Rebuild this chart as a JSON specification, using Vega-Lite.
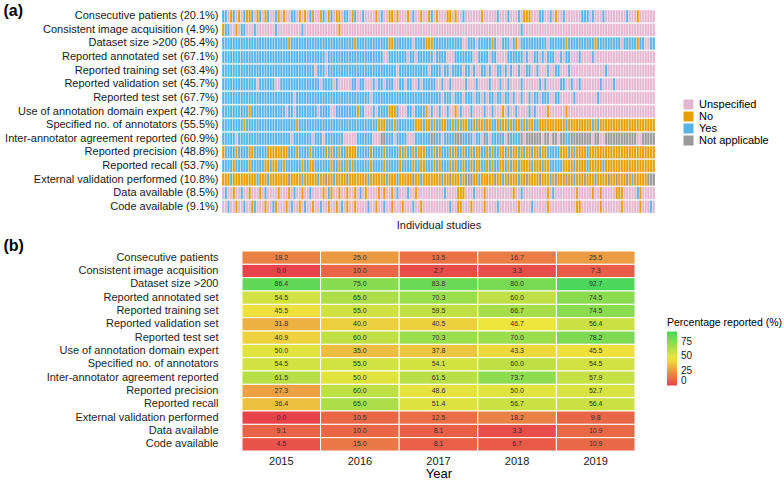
{
  "$schema": "https://vega.github.io/schema/vega-lite/v6.json",
  "padding": {"left": 3, "top": 2, "right": 0, "bottom": 0},
  "spacing": 7,
  "config": {
    "font": "Liberation Sans",
    "view": {"stroke": null},
    "axis": {"grid": false, "domain": false, "ticks": false}
  },
  "datasets": {
    "cats": [
      {"code": 0, "status": "Unspecified"},
      {"code": 1, "status": "No"},
      {"code": 2, "status": "Yes"},
      {"code": 3, "status": "Not applicable"}
    ]
  },
  "resolve": {
    "scale": {"color": "independent", "x": "independent", "y": "independent"},
    "legend": {"color": "independent"}
  },
  "vconcat": [
    {
      "width": 433,
      "height": 203,
      "data": {
        "values": [
          {"crit": "Consecutive patients (20.1%)", "v": [2,2,0,1,2,0,1,0,2,1,1,2,0,1,2,0,1,2,0,0,2,1,0,1,0,0,2,2,0,1,0,1,0,2,1,0,0,1,2,0,1,2,0,1,1,0,2,2,0,1,2,0,0,2,0,0,0,0,1,0,2,0,0,1,1,0,1,0,0,0,1,0,2,0,0,1,0,0,1,2,0,1,0,0,0,1,1,0,1,0,0,2,0,0,0,0,0,0,1,0,0,0,0,0,2,0,0,0,2,0,0,0,2,0,1,1,1,0,0,0,2,2,0,0,2,0,1,0,0,2,0,0,0,0,0,0,2,2,2,0,2,0,0,0,2,0,0,0,0,0,0,0,0,2,0,0,0,1,0,0,0,0,0,0]},
          {"crit": "Consistent image acquisition (4.9%)", "v": [1,2,2,0,0,1,0,2,2,0,0,0,2,0,0,0,0,0,0,0,2,0,0,0,0,0,0,0,0,0,2,0,0,0,0,0,0,0,0,0,0,0,0,0,1,0,0,0,0,0,0,0,0,0,0,0,0,0,0,0,0,0,0,0,0,0,0,0,0,0,0,0,0,0,0,0,0,0,0,0,0,0,0,0,0,0,0,0,0,0,0,0,0,0,0,0,0,0,0,0,0,0,0,0,0,0,0,0,0,0,0,0,0,2,0,0,0,0,0,0,0,0,0,0,0,0,0,0,0,0,0,0,0,0,0,0,0,0,0,0,0,0,0,0,0,0,0,0,0,0,0,0,0,0,0,0,0,0,0,0,0,0,0,0]},
          {"crit": "Dataset size >200 (85.4%)", "v": [2,2,2,2,2,2,2,2,2,2,2,2,2,2,2,2,2,2,2,2,2,2,2,2,2,1,2,2,2,2,2,2,2,2,2,2,2,2,2,2,2,2,2,2,2,2,2,2,2,2,1,2,2,2,2,2,2,2,2,2,2,2,2,1,1,2,2,2,2,2,2,2,0,2,2,2,2,1,1,1,2,2,2,2,2,2,2,2,2,2,2,0,0,2,2,2,0,2,2,2,2,2,1,2,0,0,2,2,2,0,2,1,0,2,2,2,2,2,2,2,2,2,2,0,2,2,2,2,2,2,1,2,2,2,2,2,2,2,2,2,2,1,2,2,2,2,2,2,2,2,2,0,2,2,2,2,2,1,2,2,0,0,2,2]},
          {"crit": "Reported annotated set (67.1%)", "v": [2,2,2,2,2,2,2,2,2,2,2,2,2,2,2,2,2,2,2,2,2,2,2,2,2,2,2,2,2,2,2,2,2,2,2,2,2,2,2,0,2,2,2,2,2,2,2,2,2,2,2,2,2,2,2,2,2,2,2,2,2,0,0,2,2,2,2,2,2,2,0,2,2,0,2,2,2,2,2,2,0,2,2,2,2,0,0,0,2,2,2,2,2,2,2,0,0,2,2,2,2,0,2,2,0,0,0,0,2,2,2,2,2,2,0,2,0,0,2,2,0,2,0,2,2,2,0,0,2,0,2,2,0,0,0,2,0,0,0,0,2,0,0,0,0,0,0,0,0,0,0,0,0,0,0,0,0,0,0,0,0,0,0,0]},
          {"crit": "Reported training set (63.4%)", "v": [2,2,2,2,2,2,2,2,2,2,2,2,2,2,2,2,2,2,2,2,2,2,2,2,2,2,2,2,2,2,2,2,2,2,2,0,2,2,2,0,2,2,2,2,2,2,2,2,2,2,2,2,2,2,2,2,2,2,2,2,2,2,2,2,2,2,0,2,2,2,2,2,2,2,2,2,2,2,0,2,2,2,2,0,2,2,0,2,2,2,2,0,2,2,0,2,0,0,2,2,0,2,0,0,2,2,0,2,0,2,0,0,2,0,0,2,2,0,0,2,0,0,0,2,0,0,2,2,0,0,0,2,0,0,0,0,0,0,0,0,0,0,0,0,0,2,0,0,0,0,0,0,0,0,0,0,0,0,0,0,0,0,0,0]},
          {"crit": "Reported validation set (45.7%)", "v": [2,2,2,2,2,2,2,2,2,2,2,2,2,0,2,2,2,2,2,2,0,0,2,2,2,2,2,2,2,2,2,2,2,2,2,2,2,0,2,2,2,2,0,2,0,0,0,0,0,2,2,0,2,2,0,0,0,2,0,2,2,0,2,2,2,0,0,2,2,0,2,2,0,0,2,0,2,2,2,2,2,0,0,2,0,0,2,0,0,0,0,0,2,0,0,0,2,0,0,0,0,2,0,0,0,2,0,0,2,0,0,0,0,2,0,0,0,0,0,0,2,0,2,0,0,0,0,0,2,2,0,0,2,0,0,2,0,0,0,0,0,0,0,2,0,0,0,0,2,0,0,0,0,0,0,0,0,0,0,0,0,0,0,0]},
          {"crit": "Reported test set (67.7%)", "v": [2,2,2,2,2,2,2,2,2,2,2,2,2,2,2,2,2,2,2,2,2,2,2,2,2,2,2,0,2,2,2,2,2,2,2,2,2,2,2,2,2,2,2,2,2,2,2,2,2,2,2,2,2,2,2,2,0,2,2,2,2,2,2,2,2,2,2,2,2,2,2,2,2,2,2,2,2,2,2,2,2,2,2,0,2,2,2,0,2,2,2,0,2,2,2,0,2,2,0,2,0,2,2,0,2,2,0,2,2,0,2,0,0,2,0,0,2,0,2,2,0,2,2,2,0,0,2,2,0,0,0,0,0,2,0,0,0,0,0,0,0,0,2,0,0,0,0,0,0,0,0,0,0,0,0,0,0,0,0,0,0,0,0,0]},
          {"crit": "Use of annotation domain expert (42.7%)", "v": [2,2,2,2,2,2,2,2,2,2,1,2,2,2,2,2,2,2,2,2,2,2,2,2,0,2,2,0,2,2,2,2,2,2,2,2,0,2,2,2,2,0,0,2,2,2,2,2,2,2,2,1,2,2,0,0,0,2,0,2,2,2,2,1,1,1,2,0,0,0,2,2,0,2,2,2,2,1,0,2,0,0,2,0,0,2,0,0,1,0,2,0,0,0,2,0,0,0,0,2,0,0,2,0,0,0,1,0,2,0,0,2,0,0,0,0,2,0,2,0,0,0,0,1,0,0,0,0,0,0,1,0,0,0,0,0,0,0,0,0,0,0,0,0,0,0,0,0,0,0,0,0,0,0,0,0,0,0,0,0,0,0,0,0]},
          {"crit": "Specified no. of annotators (55.5%)", "v": [2,2,2,2,2,2,2,2,1,2,2,2,2,2,2,2,2,2,2,2,2,2,2,2,2,2,2,2,1,2,2,2,2,2,2,2,2,2,2,2,2,2,2,2,2,2,2,2,2,2,2,2,2,2,2,2,2,2,2,1,1,1,2,2,2,1,2,2,2,2,2,2,2,1,1,1,2,1,1,2,1,2,2,1,1,2,2,1,2,1,2,1,1,2,2,1,2,1,1,2,1,1,2,2,1,2,1,1,2,1,2,1,1,2,1,2,1,1,2,2,1,1,1,1,1,1,1,1,1,1,2,1,1,1,1,1,1,1,1,1,2,1,2,1,1,1,1,1,1,1,1,1,1,1,1,1,1,1,1,1,1,1,1,1]},
          {"crit": "Inter-annotator agreement reported (60.9%)", "v": [2,2,2,2,2,0,2,2,2,2,2,2,2,2,2,2,2,2,2,2,2,2,2,2,2,2,0,2,2,2,2,2,2,2,0,2,2,2,0,2,2,2,2,2,2,2,0,0,0,0,0,2,2,2,2,2,2,0,0,0,3,3,2,2,2,0,2,2,2,2,0,0,0,2,2,2,2,2,2,3,3,2,2,0,2,2,2,2,3,3,3,2,2,3,2,0,2,2,0,3,2,0,2,2,2,3,2,0,3,2,2,2,2,3,0,3,3,3,3,3,3,0,3,3,0,3,3,0,3,3,2,2,3,3,3,3,3,3,3,3,0,3,3,0,0,3,3,3,3,3,3,3,3,3,3,3,3,0,0,3,3,3,3,3]},
          {"crit": "Reported precision (48.8%)", "v": [1,2,2,2,2,1,2,2,2,2,1,1,2,2,2,2,2,1,1,1,1,1,1,1,1,2,2,2,1,2,2,2,2,1,2,2,2,2,2,1,2,1,2,2,1,2,2,1,1,1,1,2,2,2,2,2,1,2,2,2,2,1,2,2,2,2,2,1,2,1,2,2,1,2,1,1,1,2,2,2,1,2,1,2,2,2,1,2,1,2,2,1,2,2,1,2,1,1,2,2,1,2,1,2,2,1,1,2,1,2,1,1,2,1,2,1,1,2,1,1,2,1,1,2,2,2,2,2,1,1,1,2,1,2,1,1,1,1,2,1,1,1,1,1,1,1,1,1,1,1,1,1,1,1,1,1,1,1,1,1,1,1,1,1]},
          {"crit": "Reported recall (53.7%)", "v": [2,2,2,2,1,2,2,2,2,2,1,2,2,2,2,2,1,1,2,1,1,2,2,1,2,2,2,2,2,2,1,2,2,1,1,2,2,2,2,2,2,1,2,2,1,2,2,1,2,1,2,2,2,2,2,2,1,2,2,2,2,1,2,2,2,2,2,1,2,2,2,2,1,2,2,1,1,2,2,2,1,2,1,2,2,2,1,2,1,2,2,1,2,2,1,2,1,1,2,2,1,2,1,2,2,1,1,2,1,2,1,1,2,1,1,1,1,2,1,1,1,2,1,1,2,2,2,2,2,1,1,1,1,2,1,1,1,1,2,1,1,1,1,1,2,1,1,1,1,1,1,1,1,1,1,1,1,1,1,1,1,1,1,1]},
          {"crit": "External validation performed (10.8%)", "v": [1,1,1,2,1,1,1,1,1,1,1,1,1,2,1,1,1,2,1,1,1,1,1,1,1,3,1,1,1,1,2,1,1,1,1,1,2,1,1,3,1,1,2,1,1,1,1,3,1,1,1,1,1,1,1,2,1,1,1,1,1,1,2,1,1,1,2,1,1,1,1,1,3,1,1,2,1,1,1,1,1,1,1,2,1,1,3,1,1,1,2,1,3,3,3,1,1,2,1,1,1,1,1,3,1,1,2,1,3,1,1,1,2,1,1,3,1,1,1,1,3,1,1,1,2,1,3,1,1,1,3,1,1,2,1,1,1,3,1,1,1,3,1,1,1,1,3,1,1,3,1,1,1,3,1,2,1,1,1,1,1,3,3,3]},
          {"crit": "Data available (8.5%)", "v": [0,2,0,0,1,0,0,2,0,0,1,0,0,0,1,0,2,0,0,0,0,1,0,0,0,1,0,2,0,0,1,0,0,2,0,0,0,0,1,0,2,1,0,0,1,0,0,1,0,0,1,0,2,0,1,0,0,0,0,1,0,1,0,0,1,0,2,0,0,0,2,0,0,1,0,0,0,0,0,0,0,0,0,0,2,0,0,0,0,1,1,1,0,0,0,2,0,0,0,1,0,0,0,0,0,0,0,0,0,0,1,0,0,2,0,0,0,0,0,0,0,0,0,1,0,2,0,0,0,0,0,0,0,0,1,0,0,0,0,0,1,0,0,1,0,0,0,0,0,1,1,1,0,0,0,0,0,2,1,0,0,0,0,0]},
          {"crit": "Code available (9.1%)", "v": [0,0,2,0,0,1,0,0,2,0,0,1,2,0,0,0,1,0,0,2,1,0,0,0,1,0,2,0,0,1,0,2,0,0,1,0,0,2,0,0,1,0,0,1,0,2,0,1,0,0,1,0,0,0,0,2,0,0,1,0,0,2,0,0,1,0,0,0,1,0,0,0,2,0,0,1,0,0,0,0,0,0,0,0,0,0,2,0,0,1,1,0,0,0,1,0,0,0,0,1,0,0,0,0,2,0,0,0,0,0,0,0,1,0,0,0,0,2,0,0,0,0,0,1,0,0,0,0,0,0,0,0,0,0,1,1,0,0,0,0,0,0,0,1,0,0,0,0,0,0,0,1,0,0,0,0,0,0,1,0,0,0,2,0]}
        ]
      },
      "transform": [
        {"flatten": ["v"]},
        {"window": [{"op": "row_number", "as": "study"}], "groupby": ["crit"]},
        {"lookup": "v", "from": {"data": {"name": "cats"}, "key": "code", "fields": ["status"]}}
      ],
      "mark": {"type": "rect", "stroke": "white", "strokeWidth": 0.35},
      "encoding": {
        "x": {
          "field": "study", "type": "ordinal",
          "scale": {"paddingInner": 0, "paddingOuter": 0},
          "axis": {"labels": false, "title": "Individual studies", "titleFontSize": 11, "titleFontWeight": "normal", "titlePadding": 6, "titleColor": "#1a1a1a"}
        },
        "y": {
          "field": "crit", "type": "nominal",
          "sort": ["Consecutive patients (20.1%)", "Consistent image acquisition (4.9%)", "Dataset size >200 (85.4%)", "Reported annotated set (67.1%)", "Reported training set (63.4%)", "Reported validation set (45.7%)", "Reported test set (67.7%)", "Use of annotation domain expert (42.7%)", "Specified no. of annotators (55.5%)", "Inter-annotator agreement reported (60.9%)", "Reported precision (48.8%)", "Reported recall (53.7%)", "External validation performed (10.8%)", "Data available (8.5%)", "Code available (9.1%)"],
          "scale": {"paddingInner": 0.075, "paddingOuter": 0},
          "axis": {"title": "(a)", "titleAngle": 0, "titleX": -219, "titleY": -7.5, "titleAlign": "left", "titleBaseline": "top", "titleFontSize": 16, "titleFontWeight": "bold", "titleColor": "#000", "labelFontSize": 11, "labelColor": "#1a1a1a", "labelPadding": 4, "labelLimit": 300}
        },
        "color": {
          "field": "status", "type": "nominal",
          "scale": {"domain": ["Unspecified", "No", "Yes", "Not applicable"], "range": ["#E4B7D1", "#E69F00", "#56B4E9", "#999999"]},
          "legend": {"title": null, "orient": "none", "legendX": 461, "legendY": 89, "symbolType": "square", "symbolSize": 100, "symbolStrokeWidth": 0, "symbolOpacity": 1, "labelFontSize": 11, "labelColor": "#000", "rowPadding": 0, "padding": 0, "labelOffset": 5}
        }
      }
    },
    {
      "width": 413,
      "height": 200,
      "data": {
        "values": [
          {"c": "Consecutive patients", "yr": "2015", "p": 18.2},
          {"c": "Consecutive patients", "yr": "2016", "p": 25.0},
          {"c": "Consecutive patients", "yr": "2017", "p": 13.5},
          {"c": "Consecutive patients", "yr": "2018", "p": 16.7},
          {"c": "Consecutive patients", "yr": "2019", "p": 25.5},
          {"c": "Consistent image acquisition", "yr": "2015", "p": 0.0},
          {"c": "Consistent image acquisition", "yr": "2016", "p": 10.0},
          {"c": "Consistent image acquisition", "yr": "2017", "p": 2.7},
          {"c": "Consistent image acquisition", "yr": "2018", "p": 3.3},
          {"c": "Consistent image acquisition", "yr": "2019", "p": 7.3},
          {"c": "Dataset size >200", "yr": "2015", "p": 86.4},
          {"c": "Dataset size >200", "yr": "2016", "p": 75.0},
          {"c": "Dataset size >200", "yr": "2017", "p": 83.8},
          {"c": "Dataset size >200", "yr": "2018", "p": 80.0},
          {"c": "Dataset size >200", "yr": "2019", "p": 92.7},
          {"c": "Reported annotated set", "yr": "2015", "p": 54.5},
          {"c": "Reported annotated set", "yr": "2016", "p": 65.0},
          {"c": "Reported annotated set", "yr": "2017", "p": 70.3},
          {"c": "Reported annotated set", "yr": "2018", "p": 60.0},
          {"c": "Reported annotated set", "yr": "2019", "p": 74.5},
          {"c": "Reported training set", "yr": "2015", "p": 45.5},
          {"c": "Reported training set", "yr": "2016", "p": 55.0},
          {"c": "Reported training set", "yr": "2017", "p": 59.5},
          {"c": "Reported training set", "yr": "2018", "p": 66.7},
          {"c": "Reported training set", "yr": "2019", "p": 74.5},
          {"c": "Reported validation set", "yr": "2015", "p": 31.8},
          {"c": "Reported validation set", "yr": "2016", "p": 40.0},
          {"c": "Reported validation set", "yr": "2017", "p": 40.5},
          {"c": "Reported validation set", "yr": "2018", "p": 46.7},
          {"c": "Reported validation set", "yr": "2019", "p": 56.4},
          {"c": "Reported test set", "yr": "2015", "p": 40.9},
          {"c": "Reported test set", "yr": "2016", "p": 60.0},
          {"c": "Reported test set", "yr": "2017", "p": 70.3},
          {"c": "Reported test set", "yr": "2018", "p": 70.0},
          {"c": "Reported test set", "yr": "2019", "p": 78.2},
          {"c": "Use of annotation domain expert", "yr": "2015", "p": 50.0},
          {"c": "Use of annotation domain expert", "yr": "2016", "p": 35.0},
          {"c": "Use of annotation domain expert", "yr": "2017", "p": 37.8},
          {"c": "Use of annotation domain expert", "yr": "2018", "p": 43.3},
          {"c": "Use of annotation domain expert", "yr": "2019", "p": 45.5},
          {"c": "Specified no. of annotators", "yr": "2015", "p": 54.5},
          {"c": "Specified no. of annotators", "yr": "2016", "p": 55.0},
          {"c": "Specified no. of annotators", "yr": "2017", "p": 54.1},
          {"c": "Specified no. of annotators", "yr": "2018", "p": 60.0},
          {"c": "Specified no. of annotators", "yr": "2019", "p": 54.5},
          {"c": "Inter-annotator agreement reported", "yr": "2015", "p": 61.5},
          {"c": "Inter-annotator agreement reported", "yr": "2016", "p": 50.0},
          {"c": "Inter-annotator agreement reported", "yr": "2017", "p": 61.5},
          {"c": "Inter-annotator agreement reported", "yr": "2018", "p": 73.7},
          {"c": "Inter-annotator agreement reported", "yr": "2019", "p": 57.9},
          {"c": "Reported precision", "yr": "2015", "p": 27.3},
          {"c": "Reported precision", "yr": "2016", "p": 60.0},
          {"c": "Reported precision", "yr": "2017", "p": 48.6},
          {"c": "Reported precision", "yr": "2018", "p": 50.0},
          {"c": "Reported precision", "yr": "2019", "p": 52.7},
          {"c": "Reported recall", "yr": "2015", "p": 36.4},
          {"c": "Reported recall", "yr": "2016", "p": 65.0},
          {"c": "Reported recall", "yr": "2017", "p": 51.4},
          {"c": "Reported recall", "yr": "2018", "p": 56.7},
          {"c": "Reported recall", "yr": "2019", "p": 56.4},
          {"c": "External validation performed", "yr": "2015", "p": 0.0},
          {"c": "External validation performed", "yr": "2016", "p": 10.5},
          {"c": "External validation performed", "yr": "2017", "p": 12.5},
          {"c": "External validation performed", "yr": "2018", "p": 18.2},
          {"c": "External validation performed", "yr": "2019", "p": 9.8},
          {"c": "Data available", "yr": "2015", "p": 9.1},
          {"c": "Data available", "yr": "2016", "p": 10.0},
          {"c": "Data available", "yr": "2017", "p": 8.1},
          {"c": "Data available", "yr": "2018", "p": 3.3},
          {"c": "Data available", "yr": "2019", "p": 10.9},
          {"c": "Code available", "yr": "2015", "p": 4.5},
          {"c": "Code available", "yr": "2016", "p": 15.0},
          {"c": "Code available", "yr": "2017", "p": 8.1},
          {"c": "Code available", "yr": "2018", "p": 6.7},
          {"c": "Code available", "yr": "2019", "p": 10.9}
        ]
      },
      "encoding": {
        "x": {
          "field": "yr", "type": "ordinal",
          "scale": {"range": [20, 413], "paddingInner": 0, "paddingOuter": 0},
          "axis": {"title": "Year", "labelAngle": 0, "labelFontSize": 11, "labelPadding": 4, "labelColor": "#1a1a1a", "titleFontSize": 13, "titleFontWeight": "normal", "titlePadding": 1, "titleColor": "#000"}
        },
        "y": {
          "field": "c", "type": "nominal",
          "sort": ["Consecutive patients", "Consistent image acquisition", "Dataset size >200", "Reported annotated set", "Reported training set", "Reported validation set", "Reported test set", "Use of annotation domain expert", "Specified no. of annotators", "Inter-annotator agreement reported", "Reported precision", "Reported recall", "External validation performed", "Data available", "Code available"],
          "scale": {"paddingInner": 0, "paddingOuter": 0},
          "axis": {"title": "(b)", "titleAngle": 0, "titleX": -219, "titleY": -13.2, "titleAlign": "left", "titleBaseline": "top", "titleFontSize": 16, "titleFontWeight": "bold", "titleColor": "#000", "labelFontSize": 11, "labelColor": "#262626", "labelPadding": 4, "labelLimit": 300}
        }
      },
      "layer": [
        {
          "mark": {"type": "rect", "stroke": "white", "strokeWidth": 1},
          "encoding": {
            "color": {
              "field": "p", "type": "quantitative",
              "scale": {"domain": [0, 46.35, 92.7], "range": ["#E8434A", "#EEE43C", "#4BD65C"], "interpolate": "rgb"},
              "legend": {"title": "Percentage reported (%)", "orient": "none", "legendX": 445, "legendY": 67, "titleFontSize": 10.5, "titleFontWeight": "normal", "titleColor": "#000", "titlePadding": 3, "titleLimit": 250, "gradientLength": 54, "gradientThickness": 10, "gradientStrokeWidth": 0, "values": [0, 25, 50, 75], "labelOverlap": false, "labelBaseline": "middle", "labelFontSize": 10, "labelColor": "#1a1a1a", "labelOffset": 4, "padding": 0}
            }
          }
        },
        {
          "mark": {"type": "text", "fontSize": 7, "color": "#333333"},
          "encoding": {
            "text": {"field": "p", "type": "quantitative", "format": ".1f"}
          }
        }
      ]
    }
  ]
}
